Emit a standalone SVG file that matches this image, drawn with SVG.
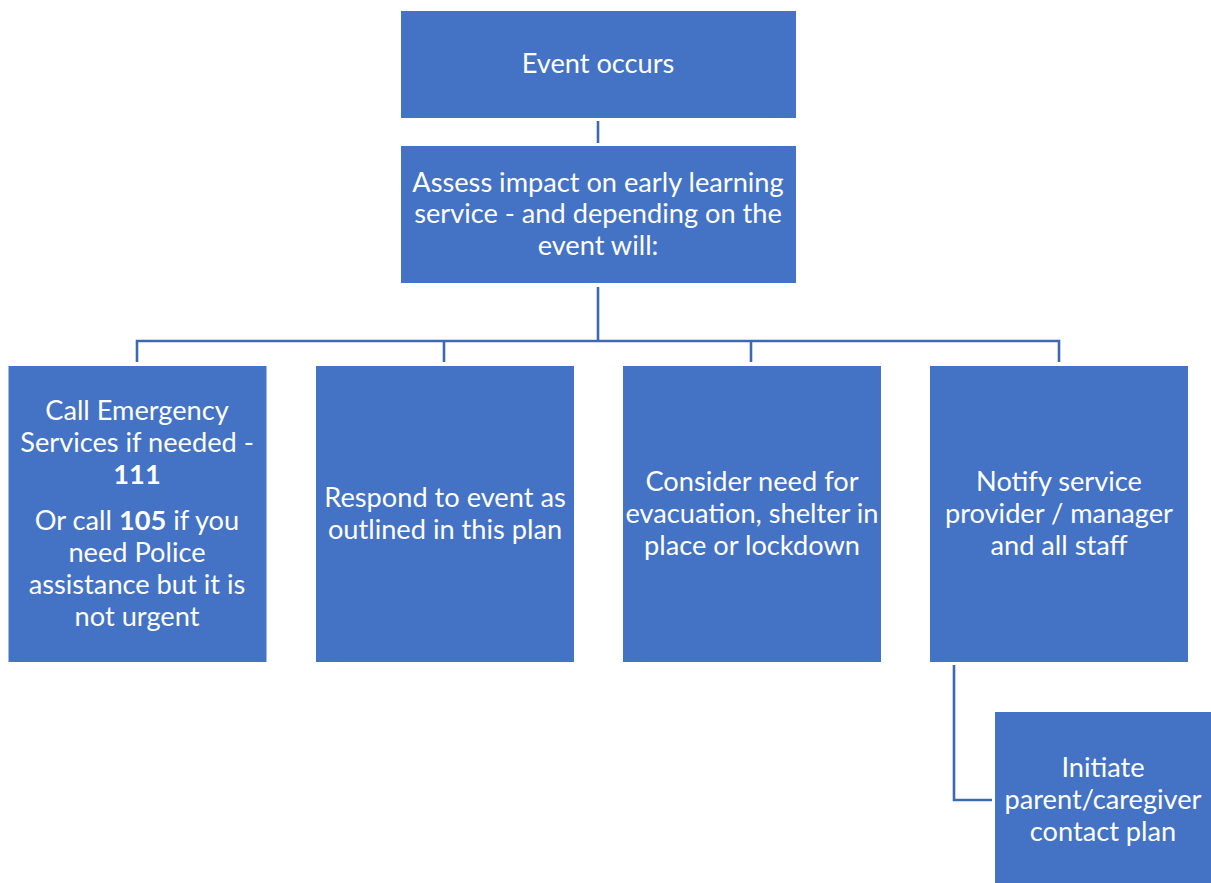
<svg xmlns="http://www.w3.org/2000/svg" width="1211" height="883" viewBox="0 0 1211 883">
<style>
.box{fill:#4472C4;}
.t{font-family:Lato,"Open Sans","Noto Sans",sans-serif;font-size:27.2px;fill:#ffffff;text-anchor:middle;}
.b{font-weight:bold;}
.c{fill:none;stroke:#3F68B3;stroke-width:2.6;}
</style>
<rect width="1211" height="883" fill="#ffffff"/>
<g id="connectors">
<path class="c" d="M598 121V143"/>
<path class="c" d="M598 287V341"/>
<path class="c" d="M137 362V341H1059V362"/>
<path class="c" d="M444 341V362"/>
<path class="c" d="M751 341V362"/>
<path class="c" d="M954 665V800H992"/>
</g>
<g id="n-event">
<rect class="box" x="401" y="11" width="395" height="107"/>
<text class="t" x="598" y="73">Event occurs</text>
</g>
<g id="n-assess">
<rect class="box" x="401" y="146" width="395" height="137"/>
<text class="t" x="598" y="192">Assess impact on early learning</text>
<text class="t" x="598" y="223">service - and depending on the</text>
<text class="t" x="598" y="255">event will:</text>
</g>
<g id="n-call">
<rect class="box" x="8.5" y="366" width="258" height="296"/>
<text class="t" x="137" y="420">Call Emergency</text>
<text class="t" x="137" y="452">Services if needed -</text>
<text class="t b" x="137" y="484">111</text>
<text class="t" x="137" y="530">Or call <tspan class="b">105</tspan> if you</text>
<text class="t" x="137" y="562">need Police</text>
<text class="t" x="137" y="594">assistance but it is</text>
<text class="t" x="137" y="626">not urgent</text>
</g>
<g id="n-respond">
<rect class="box" x="316" y="366" width="258" height="296"/>
<text class="t" x="445" y="507">Respond to event as</text>
<text class="t" x="445" y="539">outlined in this plan</text>
</g>
<g id="n-consider">
<rect class="box" x="623" y="366" width="258" height="296"/>
<text class="t" x="752" y="491">Consider need for</text>
<text class="t" x="752" y="523">evacuation, shelter in</text>
<text class="t" x="752" y="555">place or lockdown</text>
</g>
<g id="n-notify">
<rect class="box" x="930" y="366" width="258" height="296"/>
<text class="t" x="1059" y="491">Notify service</text>
<text class="t" x="1059" y="523">provider / manager</text>
<text class="t" x="1059" y="555">and all staff</text>
</g>
<g id="n-initiate">
<rect class="box" x="995" y="712" width="216" height="171"/>
<text class="t" x="1103" y="777">Initiate</text>
<text class="t" x="1103" y="809">parent/caregiver</text>
<text class="t" x="1103" y="841">contact plan</text>
</g>
</svg>
